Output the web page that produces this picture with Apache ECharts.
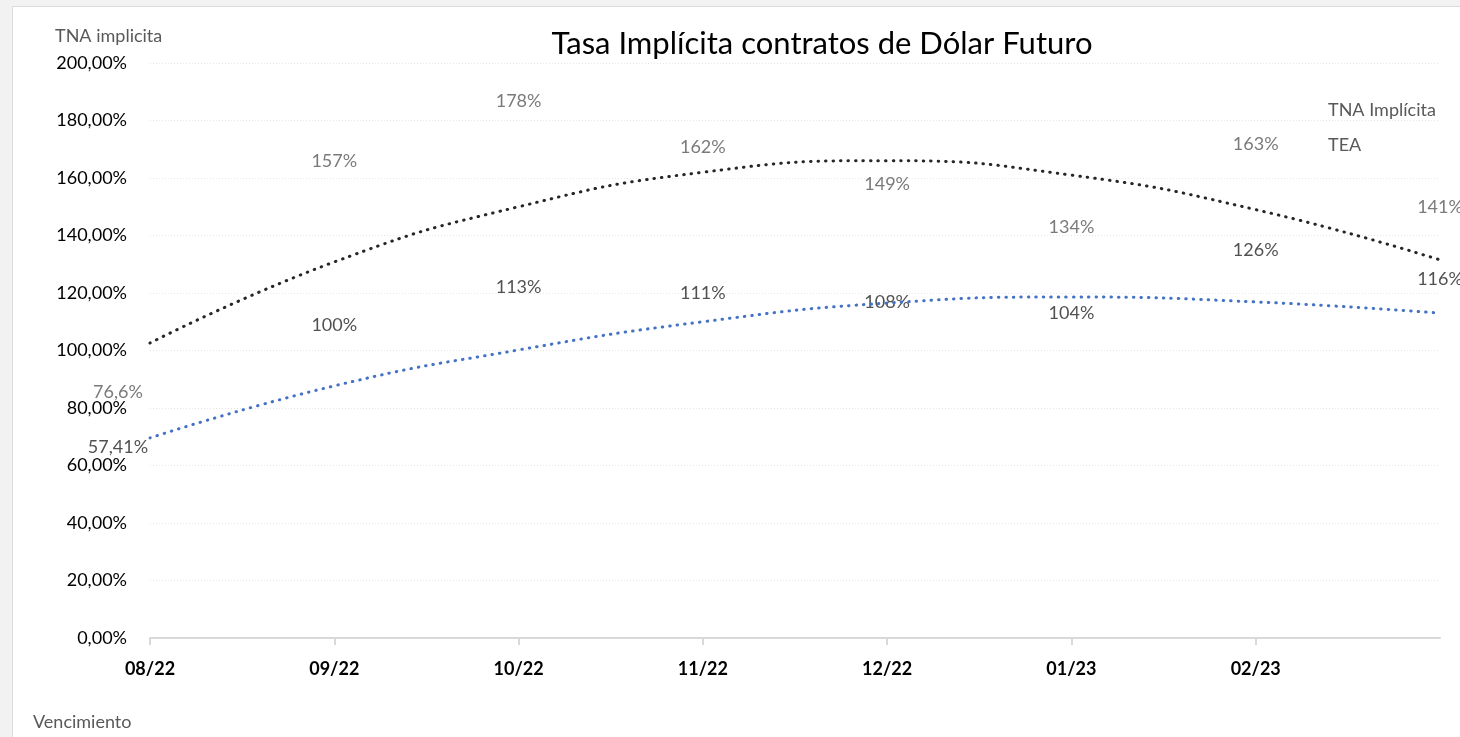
<!DOCTYPE html>
<html>
<head>
<meta charset="utf-8">
<script src="https://cdn.jsdelivr.net/npm/echarts@6/dist/echarts.min.js"></script>
<style>
html,body{margin:0;padding:0;overflow:hidden;background:#f2f2f2;}
#box{position:absolute;left:12px;top:6px;width:1460px;height:740px;background:#fff;border:1px solid #dcdcdc;}
#chart{position:absolute;left:0;top:0;width:1460px;height:737px;}
</style>
</head>
<body>
<div id="box"></div>
<div id="chart"></div>
<script>
// vencimientos
var meses = ['08/22', '09/22', '10/22', '11/22', '12/22', '01/23', '02/23', '03/23'];
// tasas de cada contrato
var tna = [57.41, 100, 113, 111, 108, 104, 126, 116];
var tea = [76.6, 157, 178, 162, 149, 134, 163, 141];
// lineas de tendencia
var tendTna = [69.6, 87.7, 100.2, 110, 116.5, 118.6, 116.9, 113];
var tendTea = [102.6, 130.8, 150, 162, 166, 161, 149, 131.5];
// eje y
var yMin = 0, yMax = 200, yPaso = 20;

var fuente = 'Lato, "Open Sans", sans-serif';

function pct(v) {
    return String(v).replace('.', ',') + '%';
}
// puntos invisibles, solo etiquetas
function puntos(valores) {
    var arr = [];
    for (var i = 0; i < valores.length; i++) {
        var p = {value: valores[i]};
        if (i == 0) {
            p.label = {offset: [-32, 0]};
        }
        arr.push(p);
    }
    return arr;
}

var chart = echarts.init(document.getElementById('chart'));
var option = {
    animation: false,
    textStyle: {fontFamily: fuente},
    grid: {left: 150, right: 20, top: 63, bottom: 99},
    graphic: [
        {type: 'text', x: 822, y: 44, style: {text: 'Tasa Implícita contratos de Dólar Futuro', fill: '#000', font: '31px ' + fuente, textAlign: 'center', textVerticalAlign: 'middle'}},
        {type: 'text', x: 55, y: 36, style: {text: 'TNA implicita', fill: '#595959', font: '18px ' + fuente, textVerticalAlign: 'middle'}},
        {type: 'text', x: 33, y: 722, style: {text: 'Vencimiento', fill: '#595959', font: '18px ' + fuente, textVerticalAlign: 'middle'}}
    ],
    legend: {
        data: ['TNA Implícita', 'TEA'],
        orient: 'vertical',
        left: 1308,
        top: 96,
        icon: 'none',
        itemWidth: 10,
        itemGap: 17,
        textStyle: {color: '#595959', fontSize: 18, fontFamily: fuente}
    },
    xAxis: {
        type: 'category',
        data: meses,
        boundaryGap: false,
        axisLine: {lineStyle: {color: '#d9d9d9', width: 2}},
        axisTick: {show: true, length: 7, lineStyle: {color: '#d9d9d9', width: 2}},
        axisLabel: {
            color: '#000', fontWeight: 'bold', fontSize: 18, margin: 22,
            interval: function (i) { return i < meses.length - 1; }
        },
        splitLine: {show: false}
    },
    yAxis: {
        type: 'value',
        min: yMin, max: yMax, interval: yPaso,
        axisLine: {show: false},
        axisTick: {show: false},
        axisLabel: {
            color: '#000', fontSize: 18, margin: 23,
            formatter: function (v) { return v.toFixed(2).replace('.', ',') + '%'; }
        },
        splitLine: {lineStyle: {color: '#e6e6e6', type: [1, 2], width: 1}}
    },
    series: [
        {
            name: 'tendTea', type: 'line', data: tendTea, smooth: true, symbol: 'none', silent: true,
            lineStyle: {color: '#262626', width: 3, type: [0.5, 7], cap: 'round'}
        },
        {
            name: 'tendTna', type: 'line', data: tendTna, smooth: true, symbol: 'none', silent: true,
            lineStyle: {color: '#4472c4', width: 3, type: [0.5, 7], cap: 'round'}
        },
        {
            name: 'TNA Implícita', type: 'scatter', data: puntos(tna), symbolSize: 1,
            itemStyle: {color: 'rgba(0,0,0,0)'},
            label: {show: true, position: 'top', distance: 16, color: '#262626', fontSize: 18, fontFamily: fuente,
                formatter: function (p) { return pct(p.value); }}
        },
        {
            name: 'TEA', type: 'scatter', data: puntos(tea), symbolSize: 1,
            itemStyle: {color: 'rgba(0,0,0,0)'},
            label: {show: true, position: 'top', distance: 16, color: '#595959', fontSize: 18, fontFamily: fuente,
                formatter: function (p) { return pct(p.value); }}
        }
    ]
};
chart.setOption(option);
window.addEventListener('resize', function () { chart.resize(); });
</script>
</body>
</html>
